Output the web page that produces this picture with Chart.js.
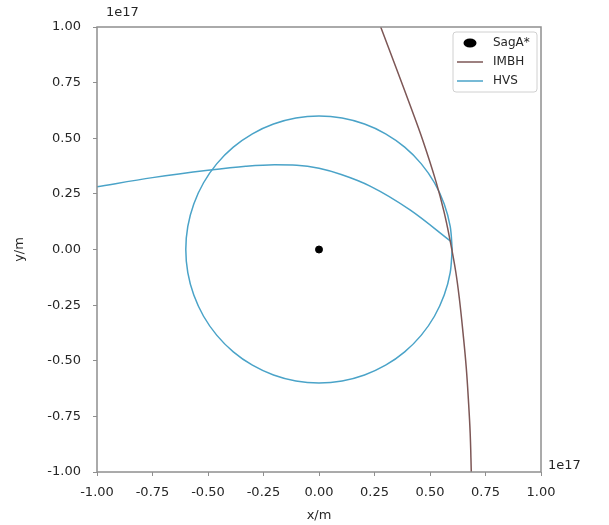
<!DOCTYPE html>
<html>
<head>
<meta charset="utf-8">
<script src="https://cdn.jsdelivr.net/npm/chart.js@4"></script>
<style>
  body { margin: 0; background: #fff; }
  canvas { display: block; }
</style>
</head>
<body>
<canvas id="orbitChart" width="609" height="525"></canvas>
<script>
// Tick labels (units of 1e17 m)
const tickValues = [-1.0, -0.75, -0.5, -0.25, 0.0, 0.25, 0.5, 0.75, 1.0];

// SagA* position
const sagX = [0];
const sagY = [0];

// IMBH path
const imbhX = [0.278, 0.346, 0.41, 0.467, 0.527, 0.563, 0.59, 0.616, 0.633, 0.649, 0.663, 0.673, 0.681, 0.686];
const imbhY = [1.0, 0.82, 0.649, 0.492, 0.305, 0.17, 0.043, -0.1, -0.227, -0.377, -0.527, -0.676, -0.826, -1.0];

const orbitX = [0.6, 0.591, 0.564, 0.52, 0.46, 0.386, 0.3, 0.205, 0.104, 0,
                -0.104, -0.205, -0.3, -0.386, -0.46, -0.52, -0.564, -0.591, -0.6,
                -0.591, -0.564, -0.52, -0.46, -0.386, -0.3, -0.205, -0.104, 0,
                0.104, 0.205, 0.3, 0.386, 0.46, 0.52, 0.564, 0.591, 0.6];
const orbitY = [0, 0.104, 0.205, 0.3, 0.386, 0.46, 0.52, 0.564, 0.591, 0.6,
                0.591, 0.564, 0.52, 0.46, 0.386, 0.3, 0.205, 0.104, 0,
                -0.104, -0.205, -0.3, -0.386, -0.46, -0.52, -0.564, -0.591, -0.6,
                -0.591, -0.564, -0.52, -0.46, -0.386, -0.3, -0.205, -0.104, 0];

// HVS ejected path
const hvsX = [-1.0, -0.75, -0.5, -0.33, -0.2, -0.1, 0.0, 0.1, 0.23, 0.41, 0.596];
const hvsY = [0.282, 0.323, 0.356, 0.374, 0.381, 0.379, 0.365, 0.337, 0.285, 0.178, 0.035];

const imbhColor = '#7d5756';
const hvsColor = '#4aa3c8';
const axisColor = '#8f8f8f';
const textColor = '#262626';
const fontFamily = "'DejaVu Sans', Verdana, sans-serif";

function pts(xs, ys) {
    return xs.map((x, i) => ({ x: x, y: ys[i] }));
}

// frame, exponent labels and legend box
const decorations = {
    id: 'decorations',
    afterDraw(chart) {
        const c = chart.ctx;
        const a = chart.chartArea;
        c.save();
        c.strokeStyle = axisColor;
        c.lineWidth = 1.5;
        c.strokeRect(a.left, a.top, a.right - a.left, a.bottom - a.top);

        c.fillStyle = textColor;
        c.font = '13px ' + fontFamily;
        c.textBaseline = 'middle';
        c.textAlign = 'left';
        c.fillText('1e17', 106, 13);
        c.fillText('1e17', 548, 466);

        // legend
        const lx = 453, ly = 32, lw = 84, lh = 60;
        c.beginPath();
        c.roundRect(lx, ly, lw, lh, 3);
        c.fillStyle = 'rgba(255,255,255,0.85)';
        c.fill();
        c.strokeStyle = '#d0d0d0';
        c.lineWidth = 1;
        c.stroke();

        const items = [
            { label: 'SagA*', type: 'dot', color: '#000' },
            { label: 'IMBH', type: 'line', color: imbhColor },
            { label: 'HVS', type: 'line', color: hvsColor },
        ];
        c.font = '12px ' + fontFamily;
        items.forEach((it, i) => {
            const y = 43 + i * 19;
            if (it.type === 'dot') {
                c.beginPath();
                c.ellipse(470, y, 6.5, 4.5, 0, 0, Math.PI * 2);
                c.fillStyle = it.color;
                c.fill();
            } else {
                c.beginPath();
                c.moveTo(457, y);
                c.lineTo(483, y);
                c.strokeStyle = it.color;
                c.lineWidth = 1.5;
                c.stroke();
            }
            c.fillStyle = textColor;
            c.fillText(it.label, 493, y);
        });
        c.restore();
    }
};

function axis(pos, title, titlePadding) {
    return {
        type: 'linear',
        position: pos,
        min: -1,
        max: 1,
        afterBuildTicks: (scale) => {
            scale.ticks = tickValues.map(v => ({ value: v }));
        },
        afterFit: (scale) => {
            if (pos === 'left') scale.width = 97;
            else scale.height = 53;
        },
        border: { display: false },
        grid: {
            drawOnChartArea: false,
            drawTicks: true,
            tickLength: 4,
            color: axisColor,
            lineWidth: 1,
        },
        ticks: {
            color: textColor,
            font: { family: fontFamily, size: 13 },
            padding: pos === 'left' ? 12 : 9,
            autoSkip: false,
            maxRotation: 0,
            callback: (v) => Number(v).toFixed(2),
        },
        title: {
            display: true,
            text: title,
            color: textColor,
            font: { family: fontFamily, size: 13 },
            padding: titlePadding,
        },
    };
}

const ctx = document.getElementById('orbitChart').getContext('2d');
const orbitChart = new Chart(ctx, {
    type: 'scatter',
    data: {
        datasets: [
            {
                label: 'SagA*',
                data: pts(sagX, sagY),
                backgroundColor: '#000',
                borderColor: '#000',
                pointRadius: 3.5,
                showLine: false,
            },
            {
                label: 'IMBH',
                data: pts(imbhX, imbhY),
                borderColor: imbhColor,
                borderWidth: 1.5,
                pointRadius: 0,
                showLine: true,
                tension: 0.4,
            },
            {
                label: 'HVS',
                data: pts(orbitX, orbitY),
                borderColor: hvsColor,
                borderWidth: 1.5,
                pointRadius: 0,
                showLine: true,
                tension: 0.335,
            },
            {
                label: 'HVS path',
                data: pts(hvsX, hvsY),
                borderColor: hvsColor,
                borderWidth: 1.5,
                pointRadius: 0,
                showLine: true,
                cubicInterpolationMode: 'monotone',
            },
        ],
    },
    options: {
        responsive: false,
        animation: false,
        layout: { padding: { top: 27, right: 68, bottom: 0, left: 0 } },
        plugins: {
            legend: { display: false },
            tooltip: { enabled: false },
        },
        scales: {
            x: axis('bottom', 'x/m', { top: 4, bottom: 2 }),
            y: axis('left', 'y/m', { top: 12, bottom: 4 }),
        },
    },
    plugins: [decorations],
});
</script>
</body>
</html>
